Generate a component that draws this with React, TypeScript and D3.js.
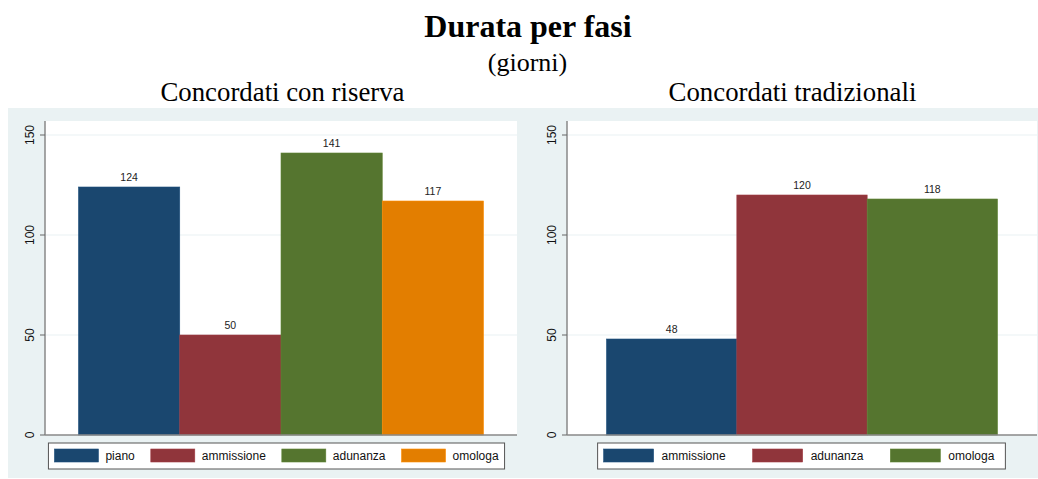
import React from "react";
import * as d3 from "d3";

const W = 1038;
const H = 479;

const mainTitle = "Durata per fasi";
const subTitle = "(giorni)";

const leftTitle = "Concordati con riserva";
const leftCategories = ["piano", "ammissione", "adunanza", "omologa"];
const leftValues = [124, 50, 141, 117];

const rightTitle = "Concordati tradizionali";
const rightCategories = ["ammissione", "adunanza", "omologa"];
const rightValues = [48, 120, 118];

const yTicks = [0, 50, 100, 150];
const palette = ["#1a476f", "#90353b", "#55752f", "#e37e00"];

const SANS = "'Liberation Sans', Arial, sans-serif";
const SERIF = "'Liberation Serif', 'Times New Roman', serif";

function measure(text: string, font: string): number {
  const c = document.createElement("canvas");
  const ctx = c.getContext("2d")!;
  ctx.font = font;
  return ctx.measureText(text).width;
}

type PanelProps = {
  title: string;
  titleShift: number;
  categories: string[];
  values: number[];
  x0: number;
  x1: number;
  outerPad: number;
  swatchW: number;
  swatchGap: number;
  itemGap: number;
  legendPadL: number;
  legendPadR: number;
  legendShift: number;
};

function Panel(p: PanelProps) {
  const top = 121;
  const y = d3.scaleLinear().domain([0, 150]).range([435, 135]);
  const x = d3
    .scaleBand<string>()
    .domain(p.categories)
    .range([p.x0 + p.outerPad, p.x1 - p.outerPad])
    .padding(0);
  const legendFont = `12px ${SANS}`;
  const widths = p.categories.map((c) => measure(c, legendFont));
  const itemWidths = widths.map((w) => p.swatchW + p.swatchGap + w);
  const inner = d3.sum(itemWidths) + p.itemGap * (p.categories.length - 1);
  const boxW = inner + p.legendPadL + p.legendPadR;
  const center = (p.x0 + p.x1) / 2 + p.legendShift;
  const boxX = center - boxW / 2;
  let cursor = boxX + p.legendPadL;
  const items = p.categories.map((c, i) => {
    const sx = cursor;
    cursor += itemWidths[i] + p.itemGap;
    return { c, sx, i };
  });
  return (
    <g>
      <text
        x={(p.x0 + p.x1) / 2 + p.titleShift}
        y={101}
        textAnchor="middle"
        fontFamily={SERIF}
        fontSize={26.8}
        fill="#000"
      >
        {p.title}
      </text>
      <rect x={p.x0} y={top} width={p.x1 - p.x0} height={435 - top} fill="#fff" />
      {yTicks
        .filter((t) => t > 0)
        .map((t) => (
          <line
            key={t}
            x1={p.x0}
            x2={p.x1}
            y1={y(t)}
            y2={y(t)}
            stroke="#eaf2f3"
            strokeWidth={1.2}
          />
        ))}
      {p.categories.map((c, i) => (
        <g key={c}>
          <rect
            x={x(c)!}
            y={y(p.values[i])}
            width={x.bandwidth()}
            height={y(0) - y(p.values[i])}
            fill={palette[i]}
            stroke={d3.color(palette[i])!.brighter(0.3).toString()}
            strokeWidth={0.6}
          />
          <text
            x={x(c)! + x.bandwidth() / 2}
            y={y(p.values[i]) - 6}
            textAnchor="middle"
            fontFamily={SANS}
            fontSize={10.5}
            fill="#222"
          >
            {p.values[i]}
          </text>
        </g>
      ))}
      <line x1={p.x0} x2={p.x0} y1={top} y2={435} stroke="#888" strokeWidth={1.5} />
      <line x1={p.x0} x2={p.x1} y1={435} y2={435} stroke="#888" strokeWidth={1.5} />
      {yTicks.map((t) => (
        <g key={t}>
          <line x1={p.x0 - 5} x2={p.x0} y1={y(t)} y2={y(t)} stroke="#666" strokeWidth={1} />
          <text
            transform={`translate(${p.x0 - 11},${y(t)}) rotate(-90)`}
            textAnchor="middle"
            fontFamily={SANS}
            fontSize={12}
            fill="#111"
          >
            {t}
          </text>
        </g>
      ))}
      <rect
        x={boxX}
        y={443}
        width={boxW}
        height={26}
        fill="#fff"
        stroke="#555"
        strokeWidth={1}
      />
      {items.map(({ c, sx, i }) => (
        <g key={c}>
          <rect
            x={sx}
            y={449}
            width={p.swatchW}
            height={13}
            fill={palette[i]}
            stroke={d3.color(palette[i])!.brighter(0.3).toString()}
            strokeWidth={0.6}
          />
          <text
            x={sx + p.swatchW + p.swatchGap}
            y={460}
            fontFamily={SANS}
            fontSize={12}
            fill="#111"
          >
            {c}
          </text>
        </g>
      ))}
    </g>
  );
}

export default function App() {
  return (
    <div style={{ position: "absolute", left: 0, top: 0 }}>
      <svg width={W} height={H} style={{ display: "block", background: "#fff" }}>
        <rect x={8} y={108} width={W - 8} height={370} fill="#eaf2f3" />
        <text
          x={528}
          y={37}
          textAnchor="middle"
          fontFamily={SERIF}
          fontWeight="bold"
          fontSize={32}
          fill="#000"
        >
          {mainTitle}
        </text>
        <text
          x={527.5}
          y={71}
          textAnchor="middle"
          fontFamily={SERIF}
          fontSize={26}
          fill="#000"
        >
          {subTitle}
        </text>
        <Panel
          title={leftTitle}
          titleShift={1.5}
          categories={leftCategories}
          values={leftValues}
          x0={45}
          x1={517}
          outerPad={33.5}
          swatchW={44}
          swatchGap={7}
          itemGap={16}
          legendPadL={6}
          legendPadR={6}
          legendShift={-4.5}
        />
        <Panel
          title={rightTitle}
          titleShift={-9.5}
          categories={rightCategories}
          values={rightValues}
          x0={567}
          x1={1037}
          outerPad={39.5}
          swatchW={50}
          swatchGap={8}
          itemGap={27}
          legendPadL={6}
          legendPadR={11}
          legendShift={-0.5}
        />
      </svg>
    </div>
  );
}
